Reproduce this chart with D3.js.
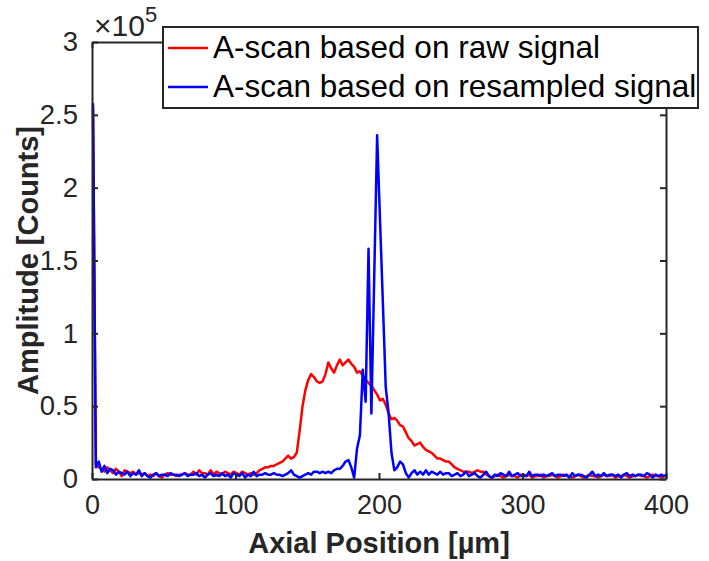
<!DOCTYPE html>
<html>
<head>
<meta charset="utf-8">
<title>A-scan</title>
<script src="https://d3js.org/d3.v7.min.js"></script>
<style>
  body { margin: 0; background: #fff; }
  svg { font-family: "Liberation Sans", Arial, Helvetica, sans-serif; }
  .axis path, .axis line { stroke: #262626; }
  .axis text { fill: #262626; }
</style>
</head>
<body>
<script>

// axial positions: 0..400 um, 2 um steps
var step = 2;

// amplitude in 1e3 counts, one row = 10 samples (row start in comment)
var rawSignal = [
  255, 10, 8, 7, 5, 8, 6, 4, 7, 5,        // 0
  2, 6, 5, 4, 5, 3, 4, 3, 4, 2,           // 20
  3, 2, 4, 2, 1, 3, 4, 3, 3, 2,           // 40
  3, 3, 4, 3, 3, 5, 3, 6, 4, 4,           // 60
  3, 6, 3, 5, 4, 3, 5, 4, 3, 5,           // 80
  4, 3, 5, 4, 3, 4, 3, 4, 6, 7,           // 100
  8, 8, 9, 9, 10, 11, 12, 14, 16, 14,     // 120
  15, 18, 33, 50, 61, 68, 72, 70, 67, 66, // 140
  67, 72, 80, 76, 73, 78, 82, 78, 80, 82, // 160
  79, 77, 73, 74, 71, 68, 66, 64, 61, 58, // 180
  54, 55, 51, 45, 41, 42, 40, 37, 36, 32, // 200
  28, 26, 23, 24, 25, 22, 20, 19, 18, 16, // 220
  14, 14, 13, 12, 12, 10, 8, 7, 6, 5,     // 240
  5, 5, 4, 5, 6, 5, 5, 3, 2, 1,           // 260
  2, 3, 2, 1, 2, 3, 2, 2, 1, 3,           // 280
  2, 2, 3, 1, 2, 2, 3, 1, 2, 2,           // 300
  3, 2, 1, 2, 3, 2, 2, 1, 2, 3,           // 320
  2, 1, 2, 3, 2, 2, 1, 2, 3, 2,           // 340
  2, 3, 1, 2, 2, 3, 2, 1, 2, 2,           // 360
  3, 2, 2, 1, 2, 3, 2, 2, 1, 2,           // 380
  2                                       // 400
];

var resampledSignal = [
  258, 8, 12, 5, 9, 4, 7, 6, 3, 5,        // 0
  4, 3, 5, 2, 4, 3, 6, 2, 4, 2,           // 20
  1, 3, 4, 2, 3, 3, 2, 4, 3, 3,           // 40
  2, 3, 4, 2, 3, 3, 4, 2, 3, 1,           // 60
  3, 4, 2, 3, 2, 4, 2, 3, 1, 4,           // 80
  3, 2, 4, 1, 3, 2, 5, 2, 3, 3,           // 100
  4, 3, 3, 4, 3, 3, 2, 3, 4, 6,           // 120
  3, 2, 1, 2, 3, 4, 3, 5, 5, 4,           // 140
  5, 4, 5, 4, 6, 7, 7, 9, 12, 13,         // 160
  8, 1, 21, 30, 75, 53, 158, 45, 140, 236,// 180
  178, 121, 63, 45, 18, 6, 8, 12, 10, 4,  // 200
  1, 4, 6, 3, 5, 3, 6, 3, 5, 4,           // 220
  3, 5, 3, 4, 4, 2, 3, 4, 2, 3,           // 240
  5, 2, 3, 4, 2, 1, 3, 5, 2, 1,           // 260
  3, 2, 4, 3, 2, 5, 2, 3, 4, 2,           // 280
  3, 2, 5, 2, 3, 3, 2, 3, 2, 3,           // 300
  4, 2, 3, 3, 2, 3, 1, 4, 2, 3,           // 320
  3, 2, 1, 3, 5, 2, 3, 2, 4, 2,           // 340
  3, 3, 2, 3, 1, 3, 4, 2, 3, 2,           // 360
  3, 3, 2, 4, 3, 1, 3, 2, 3, 2,           // 380
  3                                       // 400
];

var xTicks = [0, 100, 200, 300, 400];
var yTicks = [0, 0.5, 1, 1.5, 2, 2.5, 3];   // x 1e5
var legendLabels = ["A-scan based on raw signal", "A-scan based on resampled signal"];
var colors = ["#ff0000", "#0000ff"];

var W = 709, H = 561;
var margin = {top: 42, right: 43, bottom: 82, left: 92};
var width = W - margin.left - margin.right,
    height = H - margin.top - margin.bottom;

var svg = d3.select("body").append("svg")
    .attr("width", W)
    .attr("height", H);

var g = svg.append("g")
    .attr("transform", "translate(" + margin.left + "," + margin.top + ")");

var x = d3.scaleLinear().domain([0, 400]).range([0, width]);
var y = d3.scaleLinear().domain([0, 3e5]).range([height, 0]);

var line = d3.line()
    .x(function(d, i) { return x(i * step); })
    .y(function(d) { return y(d * 1000); });

[rawSignal, resampledSignal].forEach(function(s, k) {
  g.append("path")
      .datum(s)
      .attr("fill", "none")
      .attr("stroke", colors[k])
      .attr("stroke-width", 2.5)
      .attr("stroke-linejoin", "round")
      .attr("transform", "translate(1,0)")
      .attr("d", line);
});

// axes, ticks pointing inward like matlab
var fmtY = function(d) { return d3.format("~g")(d / 1e5); };

g.append("g").attr("class", "axis")
    .attr("transform", "translate(0," + height + ")")
    .call(d3.axisBottom(x).tickValues(xTicks).tickSizeInner(-6).tickSizeOuter(0).tickPadding(16))
    .call(function(a) { a.selectAll("text").attr("font-size", 27); });

g.append("g").attr("class", "axis")
    .call(d3.axisTop(x).tickValues(xTicks).tickSizeInner(-6).tickSizeOuter(0).tickFormat(""));

g.append("g").attr("class", "axis")
    .call(d3.axisLeft(y).tickValues(yTicks.map(function(v) { return v * 1e5; }))
      .tickSizeInner(-6).tickSizeOuter(0).tickPadding(14).tickFormat(fmtY))
    .call(function(a) { a.selectAll("text").attr("font-size", 27.5); });

g.append("g").attr("class", "axis")
    .attr("transform", "translate(" + width + ",0)")
    .call(d3.axisRight(y).tickValues(yTicks.map(function(v) { return v * 1e5; }))
      .tickSizeInner(-6).tickSizeOuter(0).tickFormat(""));

g.selectAll(".axis path").attr("stroke-width", 2);
g.selectAll(".axis line").attr("stroke-width", 2);

// exponent
var ex = svg.append("text")
    .attr("x", margin.left + 2)
    .attr("y", margin.top - 6)
    .attr("fill", "#262626")
    .attr("font-size", 30);
ex.append("tspan").text("\u00d710");
ex.append("tspan").attr("dy", -14).attr("font-size", 22).text("5");

// axis titles
svg.append("text")
    .attr("x", margin.left + width / 2)
    .attr("y", 553)
    .attr("text-anchor", "middle")
    .attr("font-weight", "bold")
    .attr("font-size", 29)
    .attr("fill", "#262626")
    .text("Axial Position [\u00b5m]");

svg.append("text")
    .attr("transform", "translate(38," + (margin.top + height / 2) + ") rotate(-90)")
    .attr("text-anchor", "middle")
    .attr("font-weight", "bold")
    .attr("font-size", 29)
    .attr("fill", "#262626")
    .text("Amplitude [Counts]");

// legend
var lg = svg.append("g").attr("transform", "translate(163,27)");
lg.append("rect")
    .attr("width", 535)
    .attr("height", 81)
    .attr("fill", "#fff")
    .attr("stroke", "#262626")
    .attr("stroke-width", 2);

legendLabels.forEach(function(t, k) {
  var yy = 21 + k * 39;
  lg.append("line")
      .attr("x1", 5).attr("x2", 45)
      .attr("y1", yy).attr("y2", yy)
      .attr("stroke", colors[k]).attr("stroke-width", 2.5);
  lg.append("text")
      .attr("x", 50).attr("y", yy + 10)
      .attr("font-size", 31.5)
      .attr("fill", "#000")
      .text(t);
});

</script>
</body>
</html>
